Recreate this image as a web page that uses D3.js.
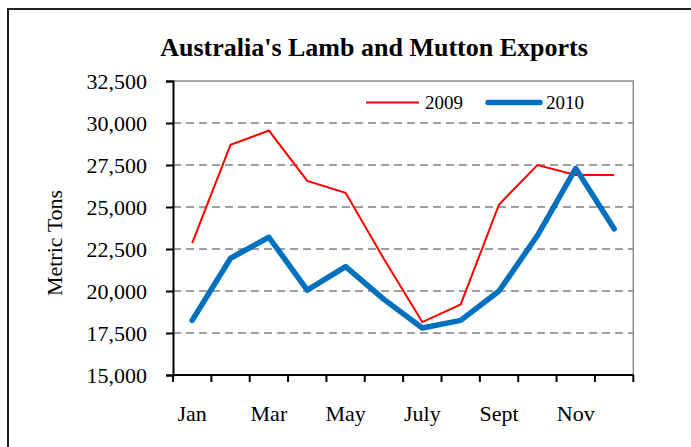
<!DOCTYPE html>
<html>
<head>
<meta charset="utf-8">
<script src="https://cdn.jsdelivr.net/npm/d3@7"></script>
<style>
  html, body { margin: 0; padding: 0; background: #fff; }
  svg { display: block; }
  text { font-family: "Liberation Serif", "Times New Roman", serif; fill: #000; }
</style>
</head>
<body>
<svg id="chart" width="691" height="447"></svg>
<script>
const months = ["Jan","Feb","Mar","Apr","May","Jun","Jul","Aug","Sep","Oct","Nov","Dec"];
const monthLabels = ["Jan","","Mar","","May","","July","","Sept","","Nov",""];
const values2009 = [22850, 28700, 29550, 26550, 25850, 21900, 18150, 19200, 25150, 27500, 26900, 26900];
const values2010 = [18250, 21950, 23200, 20050, 21450, 19500, 17800, 18250, 20000, 23300, 27300, 23700];
const yTicks = [15000, 17500, 20000, 22500, 25000, 27500, 30000, 32500];
const seriesNames = ["2009", "2010"];
const seriesColors = ["#ff0000", "#0070c0"];

(function () {
const svg = d3.select("#chart");
const pL = 173, pR = 633.3, pT = 81, pB = 375;

// outer frame
svg.append("rect").attr("x", 8).attr("y", 9).attr("width", 700).attr("height", 460)
  .attr("fill", "none").attr("stroke", "#222").attr("stroke-width", 2);

const x = d3.scaleBand().domain(months).range([pL, pR]);
const y = d3.scaleLinear().domain([15000, 32500]).range([pB, pT]);

// gridlines
svg.append("g").selectAll("line").data(yTicks.filter(t => t > 15000 && t < 32500)).join("line")
  .attr("x1", pL).attr("x2", pR)
  .attr("y1", d => y(d)).attr("y2", d => y(d))
  .attr("stroke", "#808080").attr("stroke-width", 1.5).attr("stroke-dasharray", "8,5");

// plot border (top/right)
svg.append("path")
  .attr("d", `M${pL},${y(32500)}H${pR}V${pB}`)
  .attr("fill", "none").attr("stroke", "#8c8c8c").attr("stroke-width", 1.5);

// y axis
const yAxis = svg.append("g").attr("transform", `translate(${pL},0)`)
  .call(d3.axisLeft(y).tickValues(yTicks).tickSize(7).tickPadding(19).tickFormat(d3.format(",")));
yAxis.select(".domain").attr("stroke", "#000").attr("stroke-width", 2);
yAxis.selectAll(".tick line").attr("stroke", "#000").attr("stroke-width", 2);
yAxis.selectAll("text").style("font-family", '"Liberation Serif", serif').style("font-size", "22px").attr("fill", "#000");

// x axis with ticks between categories
const xAxisG = svg.append("g").attr("transform", `translate(0,${pB})`);
xAxisG.append("line").attr("x1", pL).attr("x2", pR).attr("y1", 0).attr("y2", 0)
  .attr("stroke", "#000").attr("stroke-width", 2);
const tickPos = months.map(m => x(m)).concat([x(months[11]) + x.bandwidth()]);
xAxisG.selectAll("line.tk").data(tickPos).join("line").attr("class", "tk")
  .attr("x1", d => d).attr("x2", d => d).attr("y1", 0).attr("y2", 7)
  .attr("stroke", "#000").attr("stroke-width", 2);
xAxisG.selectAll("text").data(months).join("text")
  .attr("x", d => x(d) + x.bandwidth() / 2).attr("y", 46)
  .attr("text-anchor", "middle").style("font-size", "22px")
  .text((d, i) => monthLabels[i]);

// lines
const line = d3.line().x((d, i) => x(months[i]) + x.bandwidth() / 2).y(d => y(d));
svg.append("path").datum(values2009).attr("d", line)
  .attr("fill", "none").attr("stroke", seriesColors[0]).attr("stroke-width", 2).attr("stroke-linejoin", "miter");
svg.append("path").datum(values2010).attr("d", line)
  .attr("fill", "none").attr("stroke", seriesColors[1]).attr("stroke-width", 5.5)
  .attr("stroke-linejoin", "round").attr("stroke-linecap", "round");

// title
svg.append("text").attr("x", 374).attr("y", 56).attr("text-anchor", "middle")
  .style("font-size", "26px").style("font-weight", "bold")
  .text("Australia's Lamb and Mutton Exports");

// y label
svg.append("text").attr("transform", "translate(62,243) rotate(-90)")
  .attr("text-anchor", "middle").style("font-size", "22px").text("Metric Tons");

// legend
const legend = [
  { name: seriesNames[0], color: seriesColors[0], w: 2, x1: 366, x2: 419, tx: 425 },
  { name: seriesNames[1], color: seriesColors[1], w: 5.5, x1: 488, x2: 540, tx: 546 }
];
legend.forEach(l => {
  svg.append("line").attr("x1", l.x1).attr("x2", l.x2).attr("y1", 102.5).attr("y2", 102.5)
    .attr("stroke", l.color).attr("stroke-width", l.w).attr("stroke-linecap", l.w > 3 ? "round" : "butt");
  svg.append("text").attr("x", l.tx).attr("y", 109).style("font-size", "19px").text(l.name);
});
})();
</script>
</body>
</html>
